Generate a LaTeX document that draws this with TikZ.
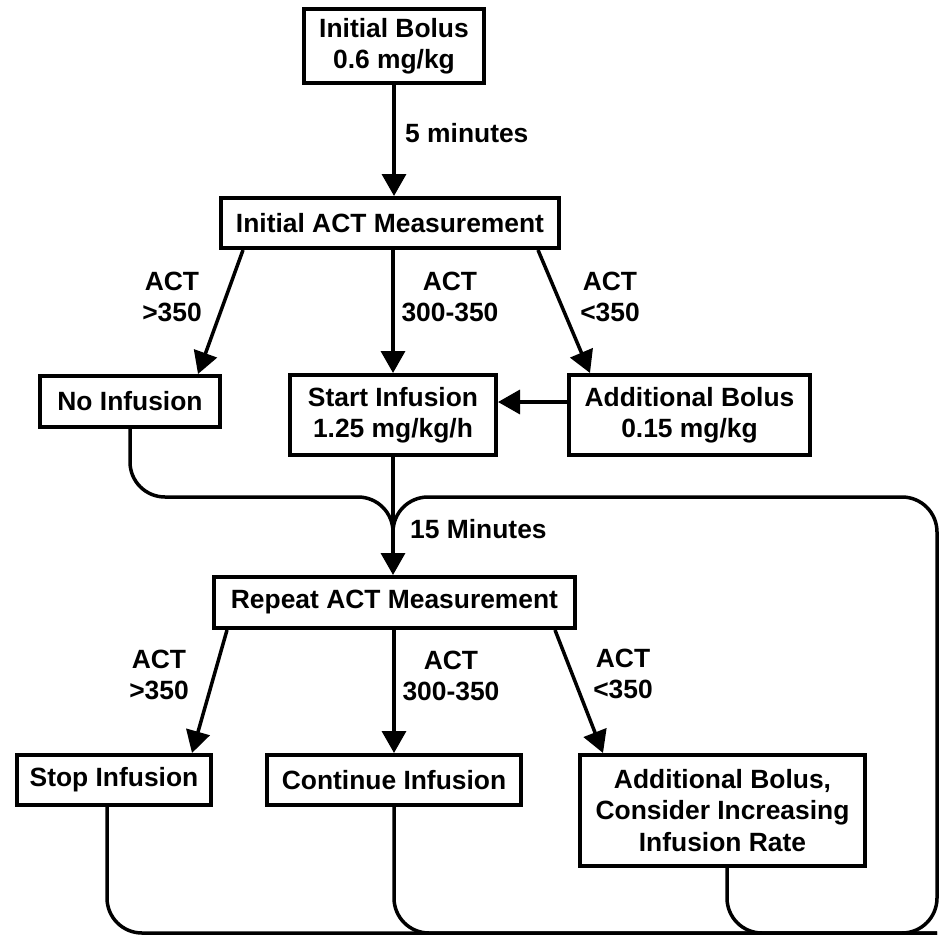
\documentclass[tikz,border=0pt]{standalone}
\usepackage{fontspec}
\setmainfont{Liberation Sans}
\usetikzlibrary{arrows.meta}
\tikzset{
  box/.style={draw=black, line width=4pt, inner sep=0pt, align=center,
    font=\bfseries\fontsize{26.4}{31.5}\selectfont},
  lbl/.style={inner sep=0pt, align=center, font=\bfseries\fontsize{26.4}{31.5}\selectfont},
  arr/.style={line width=3.5pt, -{Triangle[length=22pt,width=24pt]}},
  feed/.style={line width=3.5pt, rounded corners=35pt},
}
\begin{document}
\begin{tikzpicture}[x=1pt,y=-1pt]
    \useasboundingbox (0,0) rectangle (945,937);

    \node[box, minimum width=180pt, minimum height=74pt] (bolus) at (394,46) {Initial Bolus\\0.6 mg/kg};
    \node[box, minimum width=338pt, minimum height=50pt] (iact) at (390,223) {Initial ACT Measurement};
    \node[box, minimum width=180pt, minimum height=51pt] (noinf) at (130,401.5) {No Infusion};
    \node[box, minimum width=206pt, minimum height=80pt] (startinf) at (393,415) {Start Infusion\\1.25 mg/kg/h};
    \node[box, minimum width=241pt, minimum height=80pt] (addbolus) at (689.5,415) {Additional Bolus\\0.15 mg/kg};
    \node[box, minimum width=361pt, minimum height=51pt] (ract) at (394.5,602.5) {Repeat ACT Measurement};
    \node[box, minimum width=194pt, minimum height=50pt] (stop) at (114,780) {Stop Infusion};
    \node[box, minimum width=254pt, minimum height=50pt] (cont) at (394,780) {Continue Infusion};
    \node[box, minimum width=285pt, minimum height=111pt] (addinc) at (722.5,810.5) {Additional Bolus,\\Consider Increasing\\Infusion Rate};

    \node[lbl, anchor=west] (five) at (405,133) {5 minutes};
    \node[lbl] (hi1) at (172,297) {ACT\\>350};
    \node[lbl] (mid1) at (450,297) {ACT\\300-350};
    \node[lbl] (lo1) at (610,297) {ACT\\<350};
    \node[lbl, anchor=west] (fifteen) at (410,529) {15 Minutes};
    \node[lbl] (hi2) at (159,675) {ACT\\>350};
    \node[lbl] (mid2) at (451,676) {ACT\\300-350};
    \node[lbl] (lo2) at (623,674) {ACT\\<350};

    \coordinate (join) at (393,497);
    \coordinate (merge) at (393,545);
    \coordinate (corner) at (937,933);
    \coordinate (upper) at (937,497);

    \draw[arr] (bolus.south) -- (bolus.south |- iact.north);
    \draw[arr] ([xshift=-147pt]iact.south) -- ([xshift=68pt]noinf.north);
    \draw[arr] (startinf.north |- iact.south) -- (startinf.north);
    \draw[arr] ([xshift=148pt]iact.south) -- ([xshift=-99.5pt]addbolus.north);
    \draw[arr] ([yshift=13pt]addbolus.west) -- ([yshift=13pt]startinf.east);
    \draw[arr] (startinf.south) -- (startinf.south |- ract.north);
    \draw[arr] ([xshift=-167.5pt]ract.south) -- ([xshift=78pt]stop.north);
    \draw[arr] (cont.north |- ract.south) -- (cont.north);
    \draw[arr] ([xshift=160.5pt]ract.south) -- ([xshift=-119.5pt]addinc.north);

    \draw[feed] (noinf.south) |- (join) -- (merge);
    \draw[feed] ([xshift=-7pt]stop.south) |- (corner) -- (upper) -| (merge);
    \draw[feed] (cont.south) |- (corner);
    \draw[feed] ([xshift=4.5pt]addinc.south) |- (corner);
\end{tikzpicture}
\end{document}
